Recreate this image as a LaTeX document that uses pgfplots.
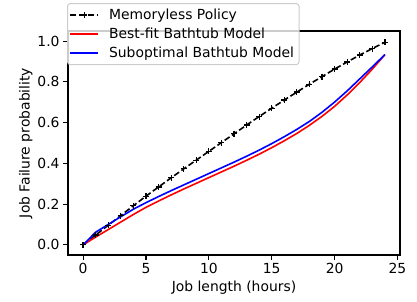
\documentclass[border=0pt]{standalone}
\usepackage{pgfplots}
\pgfplotsset{compat=1.18}
\usepackage{fontspec}
\setmainfont{DejaVu Sans}
\begin{document}
\begin{tikzpicture}
\path[use as bounding box] (-68pt,-46pt) rectangle (349pt,255pt);
\begin{axis}[
  at={(0pt,0pt)}, anchor=south west,
  scale only axis, width=332pt, height=224pt,
  xmin=-1.2, xmax=25.2, ymin=-0.05, ymax=1.05,
  xtick={0,5,10,15,20,25}, ytick={0,0.2,0.4,0.6,0.8,1.0},
  yticklabel style={/pgf/number format/.cd, fixed, fixed zerofill, precision=1},
  /pgf/number format/assume math mode=true,
  tick align=outside, tick pos=left,
  major tick length=4.9pt,
  every tick/.style={black, line width=1.1pt},
  axis line style={line width=1.1pt},
  tick label style={font=\fontsize{13.9}{16.7}\selectfont},
  label style={font=\fontsize{13.9}{16.7}\selectfont},
  xlabel={Job length (hours)}, ylabel={Job Failure probability},
  ylabel style={yshift=-2pt},
  legend style={at={(axis description cs:-0.003,1.125)}, anchor=north west,
    draw=black!20, line width=1pt, fill=white, fill opacity=0.8, text opacity=1,
    rounded corners=3pt, font=\fontsize{13.9}{16.7}\selectfont,
    inner xsep=2pt, inner ysep=3pt, row sep=2pt, column sep=7pt,
    nodes={inner xsep=3pt, inner ysep=2.5pt}},
  legend image code/.code={\draw[mark repeat=2, mark phase=2, #1] plot coordinates {(0pt,0pt) (14pt,0pt) (28pt,0pt)};},
  legend cell align=left,
]
\addplot[black, line width=1.6pt, dash pattern=on 6pt off 2.8pt, mark=+, mark size=3pt, mark options={solid, line width=1.2pt}] coordinates {
(0,0) (1,0.048) (2,0.096) (3,0.144) (4,0.192) (5,0.239) (6,0.284) (7,0.329) (8,0.373) (9,0.416) (10,0.459) (11,0.502) (12,0.545) (13,0.588) (14,0.630) (15,0.671) (16,0.711) (17,0.750) (18,0.789) (19,0.826) (20,0.863) (21,0.898) (22,0.932) (23,0.964) (24,0.995)};
\addlegendentry{Memoryless Policy}
\addplot[red, line width=1.6pt] coordinates {
(0,0) (1,0.038) (2,0.075) (3,0.112) (4,0.149) (5,0.184) (6,0.215) (7,0.245) (8,0.274) (9,0.302) (10,0.330) (11,0.358) (12,0.386) (13,0.415) (14,0.445) (15,0.477) (16,0.511) (17,0.547) (18,0.587) (19,0.631) (20,0.680) (21,0.736) (22,0.797) (23,0.863) (24,0.934)};
\addlegendentry{Best-fit Bathtub Model}
\addplot[blue, line width=1.6pt] coordinates {
(0,0) (1,0.062) (2,0.100) (3,0.138) (4,0.175) (5,0.207) (6,0.237) (7,0.266) (8,0.294) (9,0.322) (10,0.350) (11,0.378) (12,0.406) (13,0.435) (14,0.465) (15,0.497) (16,0.531) (17,0.567) (18,0.606) (19,0.651) (20,0.701) (21,0.756) (22,0.815) (23,0.874) (24,0.934)};
\addlegendentry{Suboptimal Bathtub Model}
\end{axis}
\end{tikzpicture}
\end{document}
